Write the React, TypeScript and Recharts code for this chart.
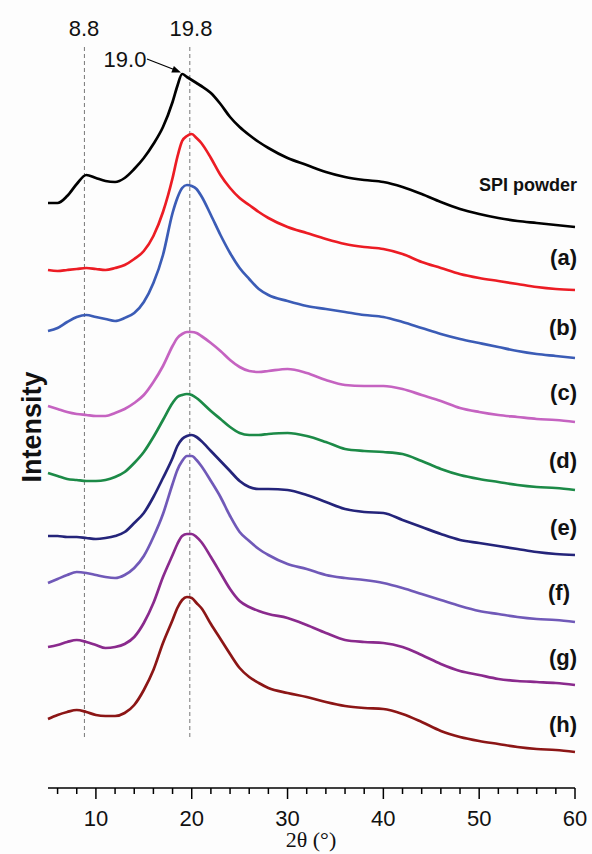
import React from 'react';
import { LineChart, Line, XAxis, YAxis, ReferenceLine } from 'recharts';

// 2θ sample positions (degrees)
const twoTheta = [5, 6, 7, 8, 9, 10, 11, 12, 13, 14, 15, 16, 17, 18, 18.5, 19, 19.5, 20, 20.5, 21, 22, 23, 24, 25, 26, 27, 28, 30, 32, 34, 36, 38, 40, 42, 44, 46, 48, 50, 52, 54, 56, 58, 60];

// stacked intensities (a.u., offset already applied)
const spiPowder = [587, 587, 594, 606, 615, 612, 609, 608, 612, 621, 632, 646, 663, 688, 704, 716, 713, 710, 707, 704, 697, 686, 673, 663, 655, 648, 642, 632, 625, 618, 613, 610, 608, 603, 596, 588, 581, 576, 572, 569, 567, 565, 563];
const sampleA = [520, 519, 520, 521, 522, 521, 520, 522, 525, 531, 539, 554, 578, 612, 633, 649, 654, 656, 652, 647, 632, 615, 602, 592, 585, 578, 572, 563, 557, 551, 546, 543, 541, 536, 528, 522, 516, 512, 509, 506, 503, 501, 500];
const sampleB = [459, 462, 468, 473, 475, 473, 471, 469, 472, 477, 488, 507, 535, 577, 592, 602, 605, 604, 601, 594, 575, 555, 537, 522, 511, 501, 495, 489, 484, 481, 478, 475, 473, 468, 462, 456, 451, 447, 443, 439, 436, 434, 432];
const sampleC = [384, 381, 378, 376, 375, 374, 374, 377, 381, 387, 395, 408, 424, 444, 452, 456, 458, 458, 457, 454, 447, 439, 430, 423, 419, 418, 419, 421, 417, 410, 405, 404, 404, 401, 395, 389, 382, 378, 375, 373, 371, 370, 368];
const sampleD = [317, 314, 311, 310, 309, 309, 310, 313, 318, 327, 338, 353, 370, 387, 393, 395, 396, 395, 392, 388, 379, 371, 363, 357, 355, 355, 356, 357, 354, 348, 341, 339, 338, 336, 329, 321, 315, 311, 308, 305, 303, 302, 300];
const sampleE = [254, 254, 253, 253, 252, 251, 252, 254, 258, 267, 277, 293, 312, 332, 344, 351, 354, 355, 353, 349, 339, 329, 319, 309, 303, 301, 301, 300, 295, 288, 281, 278, 277, 270, 263, 256, 250, 247, 244, 241, 238, 236, 235];
const sampleF = [207, 211, 215, 218, 217, 215, 213, 212, 215, 222, 234, 253, 276, 306, 320, 329, 334, 334, 330, 324, 309, 293, 274, 258, 249, 241, 235, 226, 221, 215, 212, 210, 207, 202, 196, 190, 184, 179, 176, 173, 171, 170, 168];
const sampleG = [143, 145, 148, 150, 148, 145, 142, 143, 146, 153, 167, 187, 213, 235, 246, 254, 256, 256, 253, 248, 233, 217, 201, 189, 183, 179, 176, 172, 165, 157, 150, 148, 147, 143, 135, 126, 119, 115, 111, 109, 108, 107, 105];
const sampleH = [71, 75, 78, 80, 78, 75, 74, 74, 77, 85, 100, 120, 147, 170, 182, 190, 193, 192, 187, 182, 166, 151, 136, 122, 113, 107, 102, 97, 93, 88, 84, 82, 81, 76, 68, 59, 53, 49, 46, 43, 41, 40, 38];

const seriesKeys = ['spi', 'a', 'b', 'c', 'd', 'e', 'f', 'g', 'h'];
const seriesValues = [spiPowder, sampleA, sampleB, sampleC, sampleD, sampleE, sampleF, sampleG, sampleH];
const seriesColors = ['#000000', '#ec1c24', '#3b5cb6', '#c563c1', '#1c8a47', '#24247a', '#7059b8', '#8a2a8d', '#8c1616'];
const seriesLabels = ['SPI powder', '(a)', '(b)', '(c)', '(d)', '(e)', '(f)', '(g)', '(h)'];

const xTicks = [6, 8, 10, 12, 14, 16, 18, 20, 22, 24, 26, 28, 30, 32, 34, 36, 38, 40, 42, 44, 46, 48, 50, 52, 54, 56, 58, 60];
const peakMarks = [8.8, 19.8];

const data = twoTheta.map((x, i) => {
  const row: any = { x };
  seriesKeys.forEach((k, j) => { row[k] = seriesValues[j][i]; });
  return row;
});

const sans = '"Liberation Sans", Arial, sans-serif';

const AxisTick = (props: any) => {
  const { x, y, payload } = props;
  const major = payload.value % 10 === 0;
  return (
    <g>
      <line x1={x} x2={x} y1={y} y2={y + (major ? 11 : 6)} stroke="#000" strokeWidth={1.5} />
      {major && (
        <text x={x} y={y + 38} textAnchor="middle" fontSize={22} fontFamily={sans} fill="#111">{payload.value}</text>
      )}
    </g>
  );
};

// baselines for the curve names on the right
const labelY = [191, 265, 335, 400, 468, 535, 600, 665, 732];

export default function App() {
  return (
    <div style={{ position: 'absolute', left: 0, top: 0, width: 592, height: 854, background: '#fdfdfd' }}>
      <LineChart width={592} height={854} data={data} margin={{ top: 20, right: 17, left: 48, bottom: 0 }}>
        <XAxis
          dataKey="x"
          type="number"
          domain={[5, 60]}
          ticks={xTicks}
          interval={0}
          height={66}
          tickSize={0}
          tickMargin={0}
          tickLine={false}
          axisLine={{ stroke: '#000', strokeWidth: 1.5 }}
          tick={<AxisTick />}
        />
        <YAxis hide type="number" domain={[2, 770]} />
        {peakMarks.map(p => (
          <ReferenceLine
            key={p}
            segment={[{ x: p, y: 743 }, { x: p, y: 50 }]}
            stroke="#777"
            strokeDasharray="4 3"
            strokeWidth={1}
          />
        ))}
        {seriesKeys.map((k, j) => (
          <Line
            key={k}
            dataKey={k}
            type="monotone"
            stroke={seriesColors[j]}
            strokeWidth={2.7}
            dot={false}
            isAnimationActive={false}
          />
        ))}
      </LineChart>
      <svg width={592} height={854} style={{ position: 'absolute', left: 0, top: 0, pointerEvents: 'none' }}>
        <text x={84} y={36} textAnchor="middle" fontSize={22} fontFamily={sans} fill="#111">8.8</text>
        <text x={191} y={36} textAnchor="middle" fontSize={22} fontFamily={sans} fill="#111">19.8</text>
        <text x={125} y={67} textAnchor="middle" fontSize={22} fontFamily={sans} fill="#111">19.0</text>
        <line x1={147} y1={59} x2={174} y2={69.5} stroke="#000" strokeWidth={1.2} />
        <polygon points="181,72.5 173.9,65.9 171.3,72.5" fill="#000" />
        {seriesLabels.map((t, j) => (
          <text
            key={t}
            x={t === '(f)' ? 570 : 577}
            y={labelY[j]}
            textAnchor="end"
            fontSize={j === 0 ? 18 : 22}
            fontWeight="bold"
            fontFamily={sans}
            fill="#111"
          >
            {t}
          </text>
        ))}
        <text
          x={41}
          y={427}
          transform="rotate(-90, 41, 427)"
          textAnchor="middle"
          fontSize={27}
          fontWeight="bold"
          fontFamily={sans}
          fill="#111"
        >
          Intensity
        </text>
        <text x={311} y={847} textAnchor="middle" fontSize={22} fontFamily='"Liberation Serif", "Times New Roman", serif' fill="#111">
          2θ (°)
        </text>
      </svg>
    </div>
  );
}
